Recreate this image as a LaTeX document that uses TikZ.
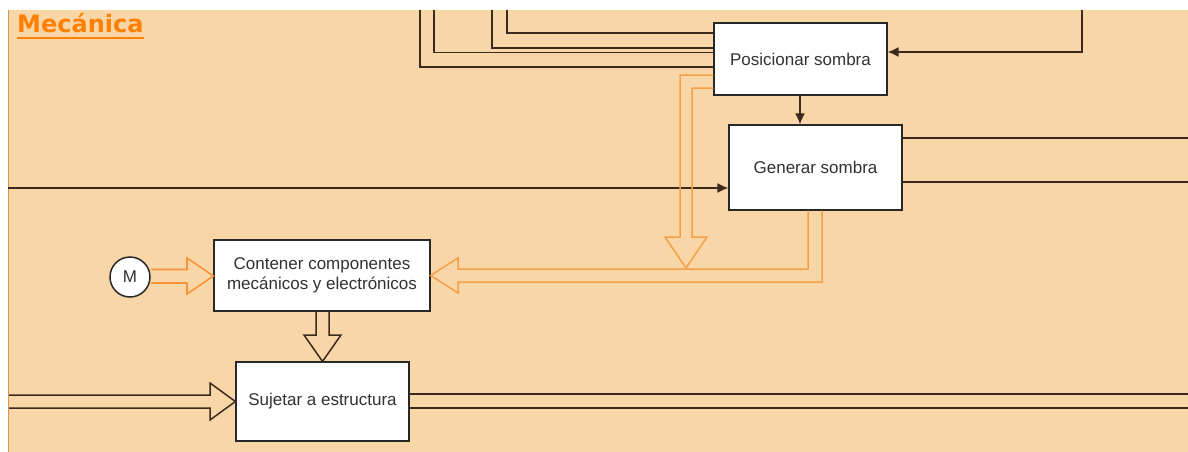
\documentclass[tikz,border=0pt]{standalone}
\usepackage{fontspec}
\setmainfont{Liberation Sans}
\newfontfamily\titlefont{DejaVu Sans}
\usetikzlibrary{calc,arrows.meta}
\definecolor{bgc}{RGB}{249,214,168}
\definecolor{edgec}{RGB}{214,150,80}
\definecolor{linec}{RGB}{60,42,30}
\definecolor{boxc}{RGB}{40,40,40}
\definecolor{txtc}{RGB}{50,50,50}
\definecolor{orc}{RGB}{246,160,70}
\definecolor{orm}{RGB}{247,148,58}
\definecolor{titlec}{RGB}{255,128,0}
\tikzset{
  boxnode/.style={draw=boxc, line width=1.2pt, fill=white, inner sep=0pt, align=center,
    text=txtc, font=\fontsize{17}{20}\selectfont},
  dline/.style={draw=linec, line width=1.5pt},
  darrow/.style={dline, -{Latex[length=11pt,width=10pt]}},
  orhollow/.style={draw=orc, line width=1.5pt, line join=miter},
  mhollow/.style={draw=orm, line width=1.6pt, line join=miter},
  dhollow/.style={draw=linec, line width=1.5pt, line join=miter}
}
\begin{document}
\begin{tikzpicture}[x=1pt,y=-1pt]
\useasboundingbox (0,0) rectangle (1188,452);
\fill[white] (0,0) rectangle (1188,452);
\fill[bgc] (8,10) rectangle (1188,452);
\draw[edgec, line width=1pt] (8.5,10) -- (8.5,452);

% title
\node[anchor=base west, inner sep=0pt, text=titlec, font=\titlefont\bfseries\fontsize{24}{28}\selectfont] (title) at (17,33) {Mecánica};
\draw[titlec, line width=1.6pt] ($(title.base west)+(0,5)$) -- ($(title.base east)+(0,5)$);

% nodes
\node[boxnode, minimum width=173pt, minimum height=72pt] (pos) at (800.5,59) {Posicionar sombra};
\node[boxnode, minimum width=173pt, minimum height=85pt] (gen) at (815.5,167.5) {Generar sombra};
\node[boxnode, minimum width=216pt, minimum height=71pt] (cont) at (322,275.5) {Contener componentes\\mecánicos y electrónicos};
\node[boxnode, minimum width=173pt, minimum height=79pt] (suj) at (322.5,401.5) {Sujetar a estructura};
\node[draw=boxc, line width=1.5pt, fill=white, circle, minimum size=40pt, inner sep=0pt, text=txtc, font=\fontsize{17}{20}\selectfont] (m) at (130,277) {M};

% free ends
\coordinate (t1) at (507,10);
\coordinate (t2) at (492,10);
\coordinate (t3) at (434,10);
\coordinate (t4) at (420,10);
\coordinate (t5) at (1082,10);
\coordinate (in1) at (8,188);

% top lines into Posicionar sombra
\draw[dline] (t1) |- (pos.west |- 0,33);
\draw[dline] (t2) |- (pos.west |- 0,48);
\draw[dline] (t3) |- (pos.west |- 0,52.5);
\draw[dline] (t4) |- (pos.west |- 0,67);
\draw[darrow] (t5) |- (pos.east |- 0,52);

% Posicionar -> Generar
\draw[darrow] (800,0 |- pos.south) -- (800,0 |- gen.north);

% left input into Generar
\draw[darrow] (in1) -- (in1 -| gen.west);

% Generar outputs to right
\draw[dline] (gen.east |- 0,138) -- (1188,138);
\draw[dline] (gen.east |- 0,182) -- (1188,182);

% Sujetar lines
\draw[dline] (suj.east |- 0,394) -- (1188,394);
\draw[dline] (suj.east |- 0,408) -- (1188,408);

% orange hollow arrow from Posicionar down
\draw[orhollow] (pos.west |- 0,75) -- (680,75) -- (680,237) -- (665,237) -- (686,268) -- (707,237) -- (692,237) -- (692,88) -- (pos.west |- 0,88);

% orange hollow arrow Generar -> Contener
\draw[orhollow] (808,0 |- gen.south) -- (808,269) -- (458,269) -- (458,258) -- (cont.east |- 0,275.5) -- (458,293) -- (458,282) -- (822,282) -- (822,0 |- gen.south);

% M -> Contener
\draw[mhollow] (m.east |- 0,269.5) -- (187,269.5) -- (187,258) -- (cont.west |- 0,276) -- (187,294) -- (187,283) -- (m.east |- 0,283);

% Contener -> Sujetar
\draw[dhollow] (316,0 |- cont.south) -- (316,335) -- (304,335) -- (suj.north -| 322.5,0) -- (341,335) -- (329,335) -- (329,0 |- cont.south);

% left hollow into Sujetar
\draw[dhollow] (9,395) -- (210,395) -- (210,383) -- (suj.west |- 0,401.5) -- (210,420) -- (210,408) -- (9,408);
\end{tikzpicture}
\end{document}
